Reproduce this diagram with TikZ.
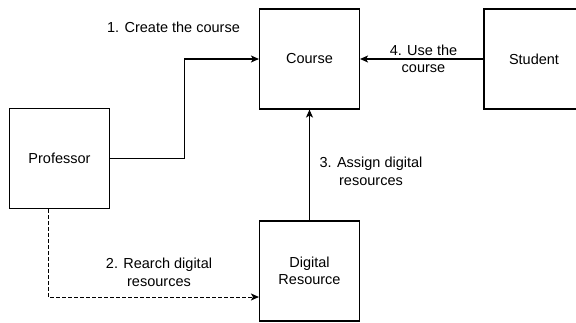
\documentclass[tikz,border=0pt]{standalone}
\usepackage{fontspec}
\setmainfont{Liberation Sans}
\usepackage{tikz}
\usetikzlibrary{positioning, calc, arrows.meta}

\begin{document}
\begin{tikzpicture}[x=1pt, y=-1pt, line width=1.1pt,
    box/.style={draw, minimum width=100pt, minimum height=100pt, inner sep=0pt,
        font=\fontsize{14.5}{17.5}\selectfont, align=center},
    lbl/.style={font=\fontsize{14.5}{17.5}\selectfont, align=center, inner sep=0pt},
    arr/.style={-{Stealth[length=8pt, width=7pt, inset=2pt]}}]
        \clip (0,0) rectangle (576,322);
        \node[box] (course) at (309.5,59) {Course};
        \node[box] (student) at (534,59) {Student};
        \node[box] (prof) at (59.5,158.5) {Professor};
        \node[box] (res) at (309.5,271) {Digital\\Resource};
        \node[lbl] (l1) at (173.5,27) {1. Create the course};
        \node[lbl] (l2) at (159,272.5) {2. Rearch digital\\resources};
        \node[lbl] (l3) at (371,171.5) {3. Assign digital\\resources};
        \node[lbl] (l4) at (423.5,59) {4. Use the\\course};
        \draw[arr] (prof.east) -- ++(74,0) |- (course.west);
        \draw[arr, line width=1pt, dash pattern=on 3.5pt off 2.5pt] ([xshift=-11.5pt]prof.south) |- ([yshift=-26pt]res.west);
        \draw[arr] (res.north) -- (course.south);
        \draw[arr] (student.west) -- (course.east);
\end{tikzpicture}
\end{document}
